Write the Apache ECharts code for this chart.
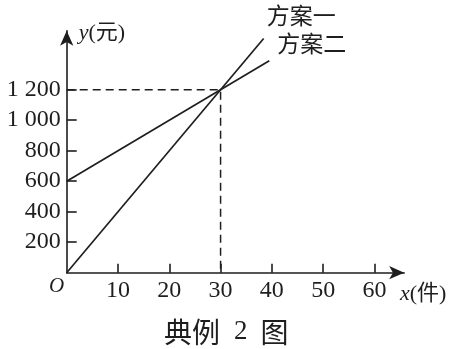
<!DOCTYPE html>
<html>
<head>
<meta charset="utf-8">
<script src="https://cdn.jsdelivr.net/npm/echarts@6/dist/echarts.min.js"></script>
<style>html,body{margin:0;padding:0;background:#fff}#c{width:458px;height:349px}</style>
</head>
<body>
<div id="c"></div>
<script>
// Data
const plan1X = [0, 38.4];
const plan1Y = [0, 1536];
const plan2X = [0, 39.5];
const plan2Y = [600, 1390];
const crossPoint = [30, 1200];
const xTicks = [10, 20, 30, 40, 50, 60];
const yTicks = [200, 400, 600, 800, 1000, 1200];
const seriesNames = ['方案一', '方案二'];

const ink = '#1e1e1e';
const serif = '"Liberation Serif", "Noto Sans CJK SC", serif';
const cjk = '"Noto Sans CJK SC", "Liberation Serif", sans-serif';

const chart = echarts.init(document.getElementById('c'), null, {renderer: 'canvas'});
const fmt = v => String(v).replace(/\B(?=(\d{3})+(?!\d))/g, ' ');

chart.setOption({
  animation: false,
  backgroundColor: '#fff',
  title: {
    text: '典例{n|2}图', left: 159, top: 313,
    textStyle: {
      fontFamily: cjk, fontSize: 28, fontWeight: 'normal', color: ink,
      rich: {n: {fontFamily: serif, fontSize: 27, color: ink, padding: [0, 13, 0, 14]}}
    }
  },
  grid: {left: 66.7, top: 30.8, width: 337.5, height: 241.9, containLabel: false, outerBoundsMode: 'none'},
  xAxis: {
    type: 'value', min: 0, max: 65.8,
    name: '{i|x}(件)', nameLocation: 'end', nameGap: 19,
    nameTextStyle: {
      align: 'center', verticalAlign: 'top', padding: [11, 0, 0, 0],
      fontFamily: serif, fontSize: 22, color: ink,
      rich: {i: {fontStyle: 'italic', fontFamily: serif, fontSize: 22, color: ink}}
    },
    axisLine: {show: true, onZero: false, symbol: ['none', 'arrow'], symbolSize: [10, 15], lineStyle: {color: ink, width: 1.6}},
    axisTick: {show: true, inside: true, length: 9, customValues: xTicks, lineStyle: {color: ink, width: 1.6}},
    axisLabel: {customValues: xTicks, margin: 6, fontSize: 24, fontFamily: serif, color: ink},
    splitLine: {show: false}
  },
  yAxis: {
    type: 'value', min: 0, max: 1586,
    name: '{i|y}(元)', nameLocation: 'end', nameGap: -2,
    nameTextStyle: {
      align: 'left', verticalAlign: 'middle', padding: [0, 0, 0, 12],
      fontFamily: serif, fontSize: 22, color: ink,
      rich: {i: {fontStyle: 'italic', fontFamily: serif, fontSize: 22, color: ink}}
    },
    axisLine: {show: true, onZero: false, symbol: ['none', 'arrow'], symbolSize: [10, 15], lineStyle: {color: ink, width: 1.6}},
    axisTick: {show: true, inside: true, length: 10, customValues: yTicks, lineStyle: {color: ink, width: 1.6}},
    axisLabel: {customValues: yTicks, margin: 6, fontSize: 24, fontFamily: serif, color: ink, formatter: fmt},
    splitLine: {show: false}
  },
  graphic: [{
    type: 'text', left: 49, top: 276,
    style: {text: 'O', font: 'italic 21px "Liberation Serif"', fill: ink}
  }],
  series: [
    {
      name: seriesNames[0], type: 'line', showSymbol: false, silent: true,
      data: plan1X.map((x, i) => [x, plan1Y[i]]),
      lineStyle: {color: ink, width: 1.7},
      endLabel: {show: true, formatter: seriesNames[0], offset: [-5, -23], fontFamily: cjk, fontSize: 23, color: ink}
    },
    {
      name: seriesNames[1], type: 'line', showSymbol: false, silent: true,
      data: plan2X.map((x, i) => [x, plan2Y[i]]),
      lineStyle: {color: ink, width: 1.7},
      endLabel: {show: true, formatter: seriesNames[1], offset: [0, -17], fontFamily: cjk, fontSize: 23, color: ink}
    },
    {
      type: 'line', showSymbol: false, silent: true,
      data: [[0, crossPoint[1]], crossPoint, [crossPoint[0], 0]],
      lineStyle: {color: ink, width: 1.5, type: [8, 5]}
    }
  ]
});
</script>
</body>
</html>
